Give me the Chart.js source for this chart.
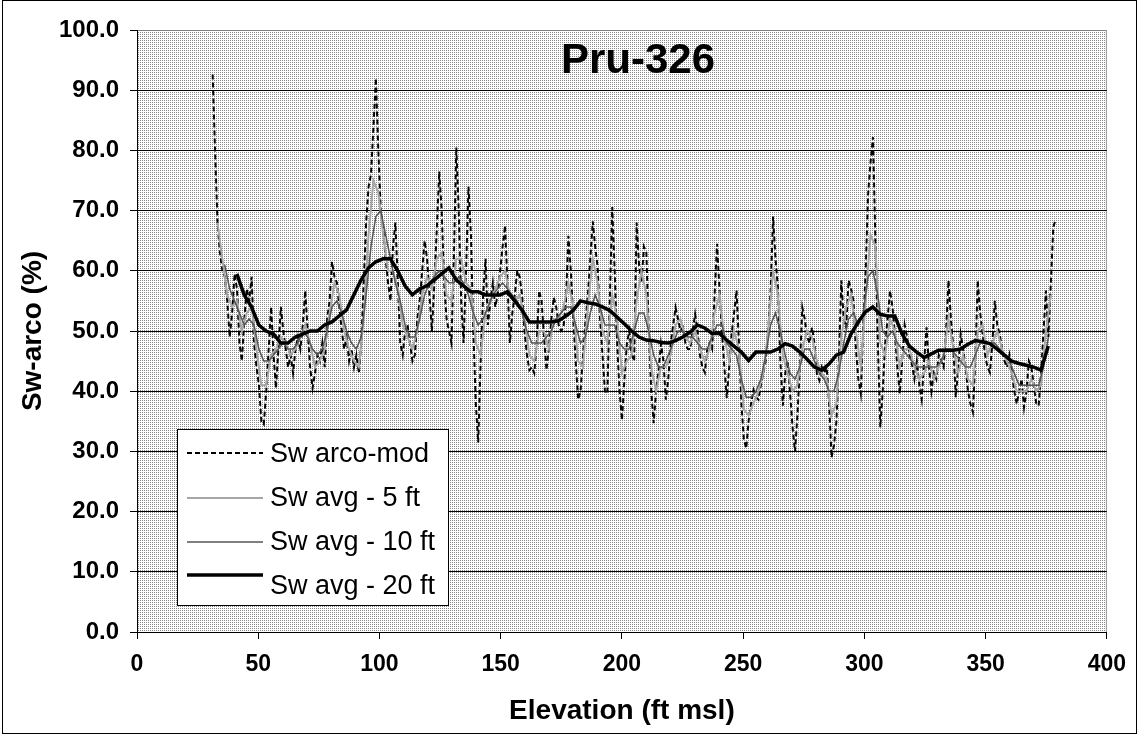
<!DOCTYPE html>
<html>
<head>
<meta charset="utf-8">
<title>Pru-326</title>
<script src="https://cdn.jsdelivr.net/npm/chart.js@4.4.1/dist/chart.umd.min.js"></script>
<style>
  html, body { margin: 0; padding: 0; background: #fff; }
  #wrap { position: relative; width: 1138px; height: 735px; }
</style>
</head>
<body>
<div id="wrap"><canvas id="swChart" width="1138" height="735"></canvas></div>
<script>
// ---- data ----
const chartTitle = 'Pru-326';
const xTitle = 'Elevation (ft msl)';
const yTitle = 'Sw-arco (%)';
const seriesNames = ['Sw arco-mod', 'Sw avg - 5 ft', 'Sw avg - 10 ft', 'Sw avg - 20 ft'];

// sampling grid of each log (start elevation, step in ft)
const rawStart = 31.2, rawStep = 1.005;
const avg5Start = 33.2, avg5Step = 2.01;
const avg10Start = 36.2, avg10Step = 2.01;
const avg20Start = 41.2, avg20Step = 3.015;

const swRaw = [
  92.6, 80, 68, 63, 60, 59, 55, 49, 53, 59.5,
  57, 48, 45, 52, 57, 55, 59, 48, 44, 41,
  35, 34.5, 40, 47, 54, 46, 40.5, 47, 54, 50,
  47, 44, 46, 43, 47, 49, 47, 51, 56.7, 50,
  44, 40.5, 43, 46, 45, 48, 44, 52, 55, 61.5,
  59, 58, 54, 50, 47, 49, 45, 47, 44, 46,
  43, 48, 58, 68, 74, 76, 84, 92, 80, 70,
  67, 62, 58, 55, 64, 68, 58, 48, 46, 50,
  51, 48, 45, 46, 52, 55, 60, 65, 62, 56,
  50, 58, 67, 76.5, 70, 58, 52, 50, 48, 62,
  80.5, 70, 55, 48, 60, 74, 66, 50, 38, 31.5,
  45, 56, 62, 51, 55, 58, 54, 56, 60, 64,
  67.5, 58, 48, 53, 56, 60, 59, 56, 50, 46,
  43.5, 44, 43, 48, 56.7, 55, 49, 43.5, 47, 52,
  55.6, 54, 51, 50, 50.6, 55, 65.8, 60, 52, 45,
  38.6, 40, 46, 51.6, 56, 62, 68.2, 64, 60.6, 52,
  46, 40, 39.6, 55, 70.6, 60, 48, 40, 35.2, 42,
  47.9, 50, 46, 45, 68, 61, 58, 64, 63, 50,
  40, 34.7, 40, 43.4, 47.9, 45, 38.6, 42, 48, 51,
  53.9, 52, 50, 50.6, 48, 47, 47, 50, 52.8, 50,
  46, 44, 43.1, 47, 48, 47, 56, 64.5, 57, 50,
  44, 38.9, 44, 49.5, 53, 56.7, 48, 38, 32, 30.5,
  35.2, 38, 40.2, 39, 38.6, 41, 43, 45.1, 50, 56.7,
  69, 62, 57.2, 45, 37.6, 43, 45, 39.6, 34, 30,
  36, 44, 53.9, 52, 49, 48, 50.6, 47.9, 42.8, 41.8,
  44, 43, 44, 38, 29, 31, 35, 45, 58.4, 52,
  50.6, 58.4, 57, 55, 47, 42, 39.6, 50.6, 60, 72.7,
  78, 82.2, 65, 48, 34, 40, 47.9, 52, 56.7, 54,
  49.5, 44, 39.6, 45, 51, 49, 46, 44.5, 42, 45,
  41, 38.6, 45, 50.6, 44, 40, 43, 42, 46, 45,
  44, 50, 58.4, 52, 47, 39, 44, 49.5, 47, 44,
  40, 37.9, 36.5, 45, 58.4, 53, 49.5, 46, 44, 43.1,
  48, 55, 51, 49.5, 47, 45, 44, 46, 43, 40,
  37.9, 40, 42, 37.3, 40, 45, 44, 41, 38, 37.6,
  43, 50, 56.7, 49, 58, 67.2, 68.6
];

const swAvg5 = [
  68, 62, 56, 54, 55, 50, 53, 54, 47, 41,
  41, 46, 47, 49, 48, 46, 47, 49, 51, 48,
  44, 45, 47, 53, 58, 56, 50, 47, 45, 44,
  52, 66, 75, 73, 66, 60, 60, 57, 51, 49,
  47, 50, 56, 59, 57, 62, 63, 56, 55, 62,
  62, 58, 57, 48, 46, 53, 55, 57, 59, 60,
  56, 55, 56, 52, 46, 45, 50, 50, 47, 52,
  52, 54, 58, 54, 45, 44, 54, 62, 58, 50,
  48, 56, 52, 43, 45, 46, 55, 60, 56, 44,
  40, 44, 44, 46, 51, 52, 49, 48, 50, 47,
  45, 47, 53, 56, 49, 45, 50, 47, 37, 36,
  38, 40, 43, 50, 60, 56, 46, 43, 40, 41,
  47, 50, 49, 45, 43, 42, 36, 38, 49, 54,
  56, 50, 44, 55, 66, 64, 48, 46, 52, 50,
  44, 47, 47, 44, 42, 43, 45, 42, 44, 46,
  52, 47, 43, 46, 42, 41, 50, 51, 46, 48,
  50, 47, 45, 43, 40, 40, 40, 42, 40, 41,
  50, 56
];

const swAvg10 = [
  61, 57, 55, 53, 51, 52, 51, 47, 45, 45,
  46, 47, 48, 47, 47, 48, 50, 49, 47, 46,
  47, 50, 54, 55, 53, 50, 48, 47, 49, 56,
  64, 69, 70, 66, 62, 58, 55, 51, 49, 49,
  52, 56, 58, 59, 60, 59, 58, 58, 59, 58,
  56, 53, 51, 52, 54, 56, 57, 58, 57, 56,
  55, 53, 50, 48, 48, 48, 49, 50, 52, 53,
  54, 54, 51, 48, 49, 53, 56, 54, 51, 51,
  51, 48, 47, 47, 50, 53, 53, 50, 46, 44,
  44, 46, 48, 50, 50, 49, 49, 48, 47, 47,
  49, 51, 51, 48, 47, 46, 42, 39, 39, 40,
  42, 46, 51, 53, 50, 46, 43, 42, 44, 47,
  47, 45, 43, 42, 40, 40, 43, 48, 52, 53,
  51, 53, 59, 60, 56, 50, 49, 50, 48, 47,
  46, 45, 44, 44, 44, 44, 44, 45, 47, 47,
  46, 45, 44, 44, 46, 48, 48, 48, 48, 47,
  46, 45, 43, 41, 41, 41, 41, 41, 44, 49
];

const swAvg20 = [
  59.5, 56, 54, 51, 50, 49.5, 48, 48, 49, 49.5,
  50, 50, 51, 51.5, 52.5, 53.5, 56, 58.5, 60.5, 61.5,
  62, 62, 60, 57.5, 56, 57, 57.5, 58.5, 59.5, 60.5,
  58.5, 57.5, 56.5, 56.5, 56, 56, 56, 56.5, 55, 53.5,
  51.5, 51.5, 51.5, 51.5, 51.7, 52.5, 53.4, 55, 54.7, 54.5,
  54, 53.4, 52.3, 51.2, 50, 49, 48.5, 48.4, 48.1, 48,
  48.4, 49, 49.8, 51, 50.5, 49.6, 49.6, 48.5, 47.5, 46.5,
  45.1, 46.5, 46.5, 46.5, 47, 47.9, 47.5, 46.5, 45.3, 44,
  43.5, 44.5, 46, 46.5, 49.5, 51.5, 53.2, 54, 52.8, 52.5,
  52.5, 49.5, 47.5, 46.5, 45.6, 46.2, 46.8, 46.8, 46.8, 47,
  47.8, 48.4, 48.2, 47.9, 47, 46, 45, 44.6, 44.3, 44,
  43.5, 47.5
];

// axis ticks
const xMin = 0, xMax = 400, xStep = 50;
const yMin = 0, yMax = 100, yStep = 10;

// ---- helpers ----
const toPoints = (vals, start, step) =>
  vals.map((v, i) => ({ x: +(start + i * step).toFixed(2), y: v }));

const FONT = 'Arial, "Liberation Sans", Helvetica, sans-serif';

function dotPattern(ctx) {
  const c = document.createElement('canvas');
  c.width = 2; c.height = 2;
  const p = c.getContext('2d');
  p.fillStyle = '#ffffff';
  p.fillRect(0, 0, 2, 2);
  p.fillStyle = '#8a8a8a';
  p.fillRect(0, 0, 1, 1);
  return ctx.createPattern(c, 'repeat');
}

// plot background, outer frame
const backgroundPlugin = {
  id: 'plotBackground',
  beforeDraw(chart) {
    const { ctx, chartArea: a, width, height } = chart;
    ctx.save();
    ctx.fillStyle = '#fff';
    ctx.fillRect(0, 0, width, height);
    ctx.fillStyle = dotPattern(ctx);
    ctx.fillRect(a.left, a.top, a.right - a.left, a.bottom - a.top);
    ctx.strokeStyle = '#777';
    ctx.lineWidth = 1;
    ctx.setLineDash([1, 1]);
    ctx.beginPath();
    ctx.moveTo(a.left, a.top + 0.5);
    ctx.lineTo(a.right - 0.5, a.top + 0.5);
    ctx.lineTo(a.right - 0.5, a.bottom);
    ctx.stroke();
    ctx.setLineDash([]);
    ctx.strokeStyle = '#000';
    ctx.strokeRect(2.5, 0.5, width - 4, height - 2);
    ctx.restore();
  }
};

// title inside the plot + legend box
const overlayPlugin = {
  id: 'overlay',
  afterDraw(chart) {
    const { ctx, chartArea: a } = chart;
    ctx.save();
    ctx.fillStyle = '#000';
    ctx.font = 'bold 42px ' + FONT;
    ctx.textAlign = 'center';
    ctx.textBaseline = 'middle';
    ctx.fillText(chartTitle, a.left + 501, a.top + 31);

    const x0 = a.left + 40, y0 = a.top + 399, w = 271, h = 176;
    ctx.fillStyle = '#fff';
    ctx.fillRect(x0, y0, w, h);
    ctx.strokeStyle = '#000';
    ctx.lineWidth = 1;
    ctx.strokeRect(x0 + 0.5, y0 + 0.5, w, h);

    const lineY = [24, 69, 113, 146];
    const textY = [26, 70, 114, 158];
    ctx.textAlign = 'left';
    ctx.font = '27px ' + FONT;
    chart.data.datasets.forEach((ds, i) => {
      ctx.beginPath();
      ctx.setLineDash(ds.borderDash || []);
      ctx.strokeStyle = ds.borderColor;
      ctx.lineWidth = ds.borderWidth;
      ctx.moveTo(x0 + 10, y0 + lineY[i]);
      ctx.lineTo(x0 + 86, y0 + lineY[i]);
      ctx.stroke();
      ctx.setLineDash([]);
      ctx.fillStyle = '#000';
      ctx.fillText(ds.label, x0 + 93, y0 + textY[i]);
    });
    ctx.restore();
  }
};

const ctx = document.getElementById('swChart');
new Chart(ctx, {
  type: 'line',
  data: {
    datasets: [
      {
        label: seriesNames[0],
        data: toPoints(swRaw, rawStart, rawStep),
        borderColor: '#000',
        borderWidth: 2,
        borderDash: [5, 3],
        order: 4
      },
      {
        label: seriesNames[1],
        data: toPoints(swAvg5, avg5Start, avg5Step),
        borderColor: '#a6a6a6',
        borderWidth: 2,
        order: 3
      },
      {
        label: seriesNames[2],
        data: toPoints(swAvg10, avg10Start, avg10Step),
        borderColor: '#555',
        borderWidth: 1.5,
        order: 2
      },
      {
        label: seriesNames[3],
        data: toPoints(swAvg20, avg20Start, avg20Step),
        borderColor: '#000',
        borderWidth: 3.5,
        order: 1
      }
    ]
  },
  options: {
    responsive: false,
    animation: false,
    devicePixelRatio: 1,
    layout: { padding: { left: 0, right: 23, top: 30, bottom: 0 } },
    elements: {
      point: { radius: 0 },
      line: { tension: 0, fill: false }
    },
    plugins: {
      legend: { display: false },
      tooltip: { enabled: false }
    },
    scales: {
      x: {
        type: 'linear',
        min: xMin,
        max: xMax,
        afterFit: (scale) => { scale.height = 103; },
        ticks: {
          stepSize: xStep,
          color: '#000',
          padding: 12,
          maxRotation: 0,
          font: { family: FONT, size: 23, weight: 'bold' }
        },
        grid: {
          drawOnChartArea: false,
          drawTicks: true,
          tickLength: 7,
          tickColor: '#000'
        },
        border: { display: true, color: '#000', width: 1 },
        title: {
          display: true,
          text: xTitle,
          color: '#000',
          padding: { top: 0, bottom: 7 },
          font: { family: FONT, size: 28, weight: 'bold' }
        }
      },
      y: {
        min: yMin,
        max: yMax,
        afterFit: (scale) => { scale.width = 137; },
        ticks: {
          stepSize: yStep,
          color: '#000',
          padding: 11,
          callback: (v) => v.toFixed(1),
          font: { family: FONT, size: 24, weight: 'bold' }
        },
        grid: {
          color: (c) => (c.tick && c.tick.value === yMax ? 'rgba(0,0,0,0)' : '#000'),
          lineWidth: 1,
          tickLength: 7,
          tickColor: '#000'
        },
        border: { display: true, color: '#000', width: 1 },
        title: {
          display: true,
          text: yTitle,
          color: '#000',
          padding: { top: 16, bottom: 0 },
          font: { family: FONT, size: 28, weight: 'bold' }
        }
      }
    }
  },
  plugins: [backgroundPlugin, overlayPlugin]
});
</script>
</body>
</html>
